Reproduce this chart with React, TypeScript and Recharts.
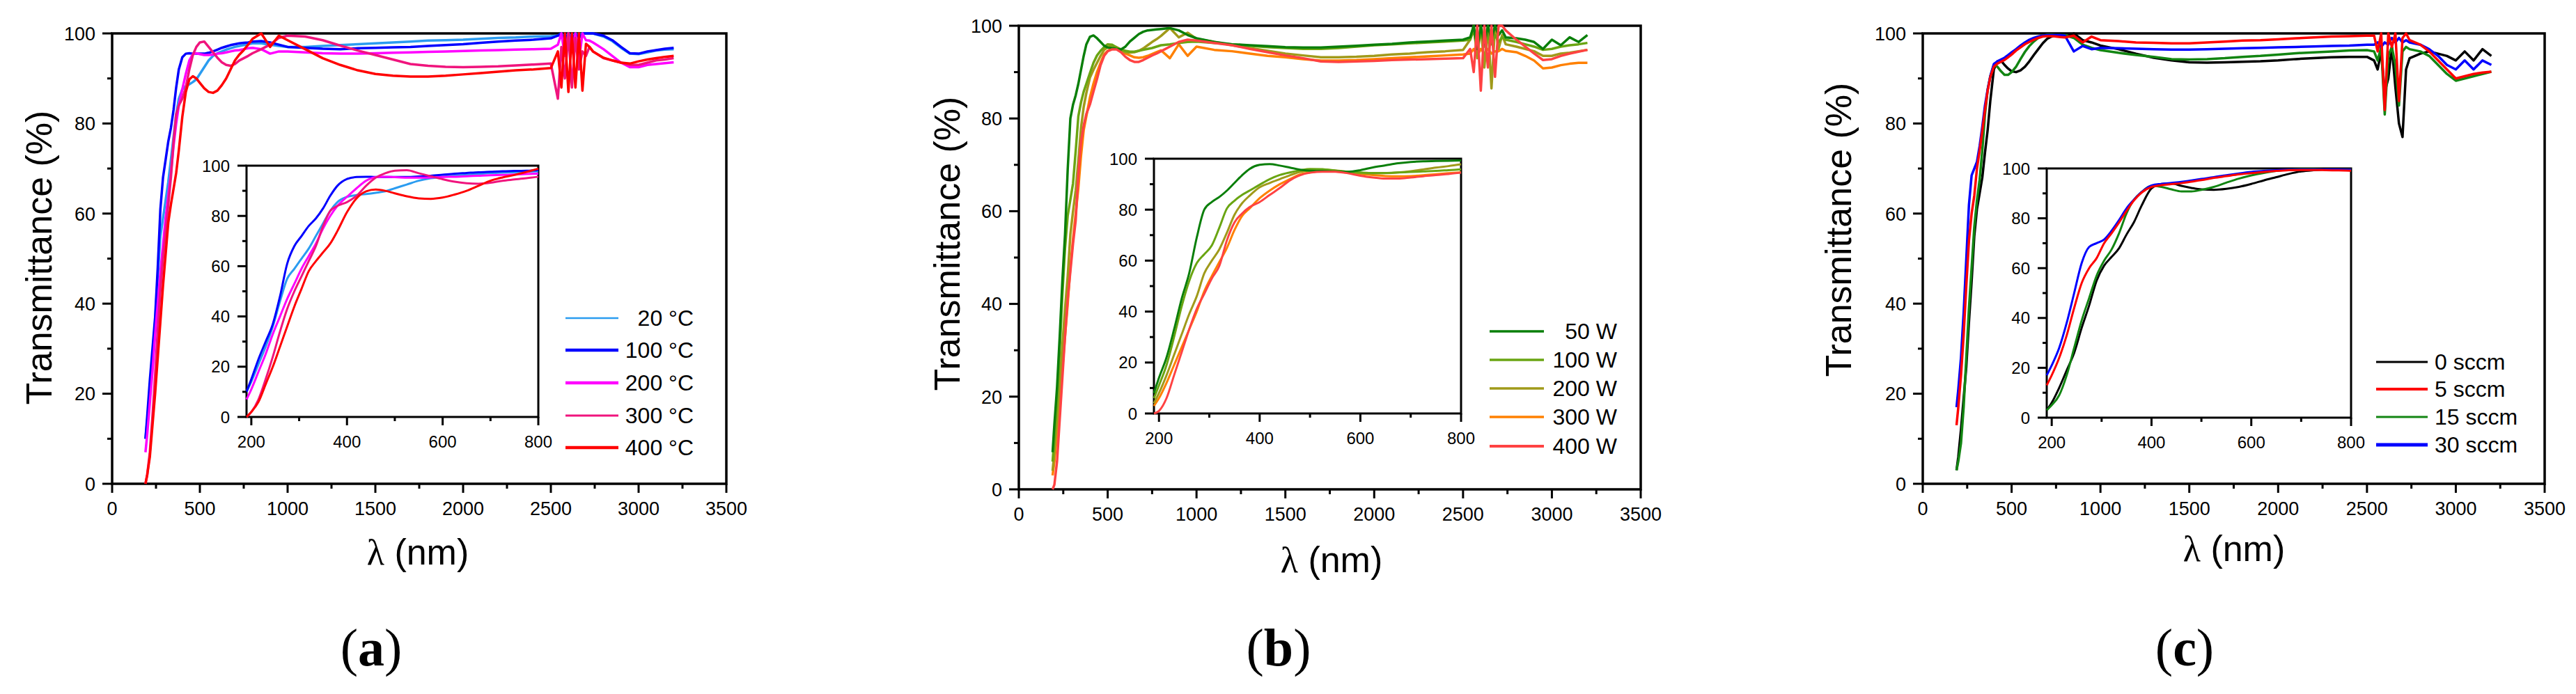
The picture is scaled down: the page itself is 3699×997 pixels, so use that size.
import { LineChart, Line, XAxis, YAxis, ReferenceArea } from 'recharts'

// wavelength grid (nm) shared by every curve
const WL = [
  190, 200, 215, 230, 245, 260, 275, 290, 305, 320, 335, 350, 365, 380,
  400, 420, 440, 460, 480, 500,
  525, 550, 575, 600, 625, 650, 675, 700, 725, 750, 775, 800,
  850, 900, 950, 1000,
  1100, 1200, 1300, 1400, 1500, 1600, 1700, 1800, 1900, 2000, 2100, 2200, 2300, 2400, 2500,
  2540, 2560, 2580, 2600, 2620, 2640, 2660, 2680, 2700, 2720, 2740,
  2800, 2850, 2900, 2950, 3000, 3050, 3100, 3150, 3200,
]

// (a) substrate temperature
const T20 = [
  10, 14, 21, 28, 36, 46, 55, 59, 63, 67, 72, 77, 82, 85.5,
  87.6, 88.3, 88.7, 89.2, 89.8, 91,
  92.5, 94, 95, 95.6, 96, 96.4, 96.7, 97, 97.2, 97.4, 97.6, 97.8,
  97.8, 97.5, 97.2, 97,
  97, 97.2, 97.4, 97.6, 97.8, 98, 98.2, 98.4, 98.5, 98.6, 98.8, 99, 99.1, 99.3, 99.4,
  99.5, 100, 99, 100, 99.2, 100, 99.5, 100, 100, 100, 100,
  99.3, 98.3, 96.8, 95.5, 95.4, 95.8, 96.2, 96.4, 96.5,
]
const T100 = [
  10, 15, 23, 30, 37, 48, 61, 68, 72, 76, 79, 83, 88, 92,
  94.7, 95.5, 95.6, 95.5, 95.5, 95.5,
  95.5, 95.7, 96, 96.4, 96.8, 97.1, 97.4, 97.6, 97.8, 97.9, 98, 98.2,
  98.3, 98, 97.5, 97,
  96.8, 96.6, 96.5, 96.7, 96.8, 96.9, 97, 97.2, 97.4, 97.6, 97.9, 98.2, 98.4, 98.6, 98.9,
  99.5, 100, 98.5, 100, 98, 100, 99, 100, 100, 100, 100,
  99.5, 98.5, 97, 95.6, 95.5, 96, 96.3, 96.6, 96.8,
]
const T200 = [
  7, 11, 18, 25, 33, 40, 47, 53, 59, 64, 69, 75, 80, 84,
  87.6, 91, 94, 95.4, 95.6, 95.4,
  95.2, 95.2, 95.3, 95.5, 95.6, 95.8, 96, 96.2, 96.3, 96.5, 96.7, 96.8,
  96.5, 95.5, 96, 96,
  95.8, 95.6, 95.5, 95.5, 95.6, 95.7, 95.8, 95.9, 96, 96.1, 96.2, 96.3, 96.4, 96.5, 96.6,
  97.5, 100, 95, 100, 96, 100, 94, 100, 98.5, 98.4, 98,
  96.5, 95, 93.5, 92.5, 92.5, 93, 93.2, 93.4, 93.6,
]
const T300 = [
  0, 2, 7, 15, 24, 34, 43, 50, 56, 62, 68, 76, 82, 84,
  85.5, 88, 92, 95.2, 97, 98,
  98.2, 97, 95.8, 94.6, 93.6, 93, 92.8, 93.2, 94, 94.5, 95, 95.6,
  96.5, 97.5, 99, 99.5,
  99.3, 98.5, 97.3, 96.2, 95.2, 94.2, 93.2, 92.8, 92.6, 92.5, 92.6, 92.7, 92.9, 93.1, 93.3,
  85.5, 97, 90, 100, 88, 99, 92, 96, 95, 97, 96,
  94.5, 94, 93.5, 93, 93, 93.5, 94, 94.2, 94.5,
]
const T400 = [
  0, 2, 6, 13, 20, 28, 36, 44, 51, 58, 62, 65.5, 69, 74,
  81.5, 87, 89.8, 90.5, 90, 89,
  87.8, 87, 86.8, 87.3, 88.5, 90, 92, 94, 95.3, 96.3, 97.5, 98.8,
  100, 97, 99.5, 98.5,
  96.5, 94.5, 93, 91.8, 91, 90.6, 90.4, 90.4, 90.6, 90.9, 91.2, 91.5, 91.8, 92, 92.3,
  96, 88, 100, 87, 100, 88, 100, 87.3, 97.7, 97, 96,
  94.6, 94, 93.5, 93.3, 93.8, 94.2, 94.5, 94.8, 95,
]

// (b) sputtering power
const P50 = [
  8, 14, 22, 33, 45, 55, 69, 80, 83, 85, 87.5, 90.5, 93.5, 96,
  97.6, 97.9, 97.3, 96.5, 95.7, 95.3,
  95.2, 95, 94.9, 95.5, 96.6, 97.4, 98.2, 98.7, 99, 99.1, 99.2, 99.3,
  99.5, 99, 98, 97.3,
  96.5, 96, 95.8, 95.6, 95.4, 95.3, 95.3, 95.5, 95.7, 95.9, 96.1, 96.4, 96.6, 96.8, 97,
  97.5, 100, 95, 100, 96, 100, 97, 100, 98, 99, 97.5,
  97.3, 97, 96.5, 95, 97, 95.8, 97.5, 96.5, 98,
]
const P100 = [
  6, 11, 19, 30, 42, 52, 59, 62.5, 66, 73, 80.5, 83.5, 85.8, 87.5,
  89.8, 92, 93.6, 94.6, 95.4, 96,
  95.9, 95.3, 94.9, 94.6, 94.4, 94.4, 94.6, 94.8, 95, 95.2, 95.5, 95.8,
  96, 96.3, 96.5, 96.6,
  96.3, 96, 95.7, 95.4, 95.2, 95, 95, 95.2, 95.5, 95.8, 96, 96.2, 96.4, 96.6, 96.8,
  97, 99, 95, 99, 95.5, 98, 96, 98, 96.5, 97.5, 97,
  96.5, 96, 95.5, 94.8, 95, 95.5, 95.8, 96, 96.3,
]
const P200 = [
  4, 8, 15, 23, 31, 39, 46, 55, 60, 64.5, 71, 78, 82.5, 85.5,
  88.8, 90.5, 92, 93.5, 94.8, 95.4,
  95.7, 95.4, 94.8, 94.3, 94.2, 94.3, 94.6, 95.1, 95.8, 96.5, 97.1, 97.8,
  99.5, 97.5, 98.5, 97.2,
  96.5, 95.8, 95.2, 94.6, 94, 93.6, 93.2, 93.2, 93.3, 93.5, 93.8, 94, 94.3, 94.5, 94.8,
  97, 100, 93, 100, 91, 100, 86.5, 100, 95, 98, 96,
  95.5, 95, 94.5, 93.5, 93.5, 94, 94.2, 94.5, 94.8,
]
const P300 = [
  3, 6, 12, 19, 26, 33, 40, 48, 54, 59.5, 65, 72, 77.5, 80.5,
  84.5, 87.5, 90, 92, 93.8, 94.6,
  95.1, 95, 94.5, 94, 93.6, 93.2, 93.1, 93.2, 93.5, 93.9, 94.3, 94.7,
  93, 96, 93.5, 95.5,
  94.8, 94.5, 94, 93.5, 93.2, 92.8, 92.5, 92.5, 92.6, 92.8, 93, 93.2, 93.4, 93.6, 93.8,
  94, 95, 93.5, 95, 94, 95, 94, 94.5, 94.5, 95, 94.6,
  94.3, 93.5, 92.5, 90.8, 91, 91.5, 91.8, 92, 92,
]
const P400 = [
  0, 1, 6, 15, 24, 33, 41, 47, 53, 58, 68, 75, 78.5, 81,
  83, 85.8, 88.5, 91.5, 93.5, 94.5,
  94.9, 94.9, 94.3, 93.3, 92.6, 92.2, 92.2, 92.6, 93.1, 93.6, 94, 94.5,
  95.5, 96.5, 97, 96.8,
  96.3, 95.8, 95, 94.3, 93.6, 93, 92.3, 92.2, 92.3, 92.4, 92.6, 92.7, 92.8, 92.9, 93,
  95, 90, 100, 86, 100, 91, 100, 89, 100, 100, 99,
  97, 95.5, 94, 92.6, 92.8, 93.5, 94, 94.4, 94.8,
]

// (c) oxygen flow
const C0 = [
  3, 6, 12, 19, 26, 36, 45, 55, 61, 64.5, 68, 73.5, 78.5, 85,
  92, 93.8, 94, 93, 92.2, 91.6,
  91.4, 91.8, 92.6, 93.8, 95.2, 96.5, 97.8, 98.8, 99.3, 99.6, 99.5, 99.2,
  100, 98.5, 98, 97.3,
  96.5, 95.5, 94.6, 94, 93.6, 93.5, 93.6, 93.7, 93.8, 94, 94.3, 94.5, 94.7, 94.8, 94.8,
  94, 92, 96, 87, 90, 97, 88, 80, 77, 92, 94.5,
  95.5, 96, 95.5, 95, 94, 96, 94, 96.5, 95,
]
const C5 = [
  13, 17, 24, 33, 44, 54, 60, 64, 70, 74, 78.3, 83, 87.2, 90.3,
  92.6, 93.3, 93.7, 94.1, 94.7, 95.3,
  96.2, 96.9, 97.6, 98.1, 98.6, 99, 99.3, 99.4, 99.4, 99.3, 99.2, 99.1,
  99.5, 98, 99.3, 98.5,
  98.3, 98, 97.9, 97.8, 97.8, 98, 98.2, 98.4, 98.5, 98.7, 98.9, 99.1, 99.3, 99.4, 99.5,
  99.5, 96, 100, 83, 100, 97, 100, 85, 99, 100, 98.5,
  97.5, 96, 94, 92, 90, 90.5, 91, 91.3, 91.5,
]
const C15 = [
  3, 5, 9, 17, 28, 39, 48, 57, 63, 67.5, 74, 82, 87.5, 90.5,
  93, 92.6, 91.6, 90.8, 90.8, 91.4,
  92.6, 94.3, 95.9, 97.2, 98.2, 99, 99.5, 99.7, 99.7, 99.6, 99.6, 99.6,
  99, 97.5, 96.8, 96.3,
  95.7, 95.2, 94.8, 94.3, 94.2, 94.3, 94.5, 94.8, 95, 95.3, 95.6, 95.8, 96, 96.2, 96.3,
  96, 94, 97, 82, 95, 97, 93, 84, 96, 97, 96.5,
  96, 95, 93, 91, 89.5, 90, 90.5, 91, 91.5,
]
const C30 = [
  17, 21, 28, 38, 50, 62, 68.5, 70, 71.5, 75, 79.3, 84, 87.5, 90.5,
  93.2, 93.8, 94.2, 94.6, 95.2, 95.8,
  96.5, 97.3, 98, 98.6, 99, 99.3, 99.5, 99.6, 99.6, 99.6, 99.6, 99.5,
  96, 97.2, 96.5, 96.8,
  96.7, 96.6, 96.5, 96.4, 96.4, 96.5, 96.6, 96.7, 96.8, 96.9, 97, 97.1, 97.2, 97.3, 97.5,
  97.5, 98, 97, 98, 97.5, 99, 98, 99, 98, 98.5, 98,
  97.5, 96.5, 95, 93, 92, 94, 92, 94, 93,
]

const MAIN_X_TICKS = [0, 250, 500, 750, 1000, 1250, 1500, 1750, 2000, 2250, 2500, 2750, 3000, 3250, 3500]
const INSET_X_TICKS = [200, 300, 400, 500, 600, 700, 800]
const Y_TICKS = [0, 10, 20, 30, 40, 50, 60, 70, 80, 90, 100]

const SANS = '"Liberation Sans", Arial, sans-serif'
const SERIF = '"Liberation Serif", "Times New Roman", serif'

type Curve = { key: string; label: string; color: string; values: number[]; legendWidth: number }
type Box = { x: number; y: number; w: number; h: number }
type Panel = {
  tag: string
  curves: Curve[]
  drawOrder: string[]
  plot: Box
  inset: Box
  yTitle: [number, number]
  xTitle: [number, number]
  tagPos: [number, number]
  legend: { x1: number; x2: number; textX: number; anchor: 'start' | 'end'; rows: number[] }
}

const panels: Panel[] = [
  {
    tag: 'a',
    curves: [
      { key: 't20', label: '20 °C', color: '#2b9cf0', values: T20, legendWidth: 2.5 },
      { key: 't100', label: '100 °C', color: '#0000ff', values: T100, legendWidth: 4.5 },
      { key: 't200', label: '200 °C', color: '#ff00ff', values: T200, legendWidth: 4.5 },
      { key: 't300', label: '300 °C', color: '#f0147d', values: T300, legendWidth: 3 },
      { key: 't400', label: '400 °C', color: '#ff0000', values: T400, legendWidth: 4.5 },
    ],
    drawOrder: ['t20', 't100', 't200', 't300', 't400'],
    plot: { x: 161, y: 48, w: 882, h: 647 },
    inset: { x: 354, y: 238, w: 419, h: 361 },
    yTitle: [56, 370],
    xTitle: [600, 793],
    tagPos: [533, 930],
    legend: { x1: 812, x2: 888, textX: 996, anchor: 'end', rows: [457, 503, 550, 597, 643] },
  },
  {
    tag: 'b',
    curves: [
      { key: 'p50', label: '50 W', color: '#0a7f0a', values: P50, legendWidth: 3.5 },
      { key: 'p100', label: '100 W', color: '#6aa512', values: P100, legendWidth: 3.5 },
      { key: 'p200', label: '200 W', color: '#a09a1a', values: P200, legendWidth: 3.5 },
      { key: 'p300', label: '300 W', color: '#ff8000', values: P300, legendWidth: 3.5 },
      { key: 'p400', label: '400 W', color: '#ff4242', values: P400, legendWidth: 4 },
    ],
    drawOrder: ['p300', 'p200', 'p100', 'p50', 'p400'],
    plot: { x: 1463, y: 37, w: 893, h: 666 },
    inset: { x: 1657, y: 228, w: 441, h: 366 },
    yTitle: [1360, 350],
    xTitle: [1912, 804],
    tagPos: [1836, 930],
    legend: { x1: 2139, x2: 2217, textX: 2322, anchor: 'end', rows: [476, 517, 558, 599, 641] },
  },
  {
    tag: 'c',
    curves: [
      { key: 'c0', label: '0 sccm', color: '#000000', values: C0, legendWidth: 3 },
      { key: 'c5', label: '5 sccm', color: '#ff0000', values: C5, legendWidth: 4 },
      { key: 'c15', label: '15 sccm', color: '#128512', values: C15, legendWidth: 3 },
      { key: 'c30', label: '30 sccm', color: '#0000ff', values: C30, legendWidth: 5 },
    ],
    drawOrder: ['c0', 'c15', 'c30', 'c5'],
    plot: { x: 2761, y: 48, w: 893, h: 647 },
    inset: { x: 2939, y: 242, w: 437, h: 358 },
    yTitle: [2640, 330],
    xTitle: [3208, 788],
    tagPos: [3137, 930],
    legend: { x1: 3412, x2: 3486, textX: 3496, anchor: 'start', rows: [520, 559, 599, 639] },
  },
]

function buildRows(curves: Curve[]) {
  return WL.map((x, i) => {
    const row: Record<string, number> = { x }
    curves.forEach((c) => {
      row[c.key] = c.values[i]
    })
    return row
  })
}

function ordered(panel: Panel) {
  return panel.drawOrder.map((k) => panel.curves.find((c) => c.key === k) as Curve)
}

// tick renderers: outward major/minor marks, labels on majors only
function xTick(step: number, major: number, minor: number, fontSize: number, dy: number) {
  return (props: any) => {
    const { x, y, payload } = props
    const isMajor = payload.value % step === 0
    return (
      <g>
        <line x1={x} x2={x} y1={y} y2={y + (isMajor ? major : minor)} stroke="#000" strokeWidth={3} />
        {isMajor && (
          <text x={x} y={y + dy} textAnchor="middle" fontSize={fontSize} fontFamily={SANS} fill="#000">
            {payload.value}
          </text>
        )}
      </g>
    )
  }
}

function yTick(step: number, major: number, minor: number, fontSize: number, gap: number) {
  return (props: any) => {
    const { x, y, payload } = props
    const isMajor = payload.value % step === 0
    return (
      <g>
        <line x1={x} x2={x - (isMajor ? major : minor)} y1={y} y2={y} stroke="#000" strokeWidth={3} />
        {isMajor && (
          <text
            x={x - major - gap}
            y={y + fontSize * 0.36}
            textAnchor="end"
            fontSize={fontSize}
            fontFamily={SANS}
            fill="#000"
          >
            {payload.value}
          </text>
        )}
      </g>
    )
  }
}

const mainXTick = xTick(500, 13, 7, 27, 45)
const mainYTick = yTick(20, 14, 7, 27, 10)
const insetXTick = xTick(200, 12, 6, 24, 44)
const insetYTick = yTick(20, 13, 6, 24, 11)

function MainChart({ panel, rows }: { panel: Panel; rows: Record<string, number>[] }) {
  const { plot } = panel
  const YW = 140
  const XH = 80
  const MT = 30
  const MR = 60
  return (
    <div style={{ position: 'absolute', left: plot.x - YW, top: plot.y - MT }}>
      <LineChart
        width={plot.w + YW + MR}
        height={plot.h + MT + XH}
        data={rows}
        margin={{ top: MT, right: MR, left: 0, bottom: 0 }}
      >
        <XAxis
          dataKey="x"
          type="number"
          domain={[0, 3500]}
          ticks={MAIN_X_TICKS}
          interval={0}
          height={XH}
          tickSize={0}
          tickMargin={0}
          tickLine={false}
          axisLine={false}
          tick={mainXTick}
        />
        <YAxis
          type="number"
          domain={[0, 100]}
          ticks={Y_TICKS}
          interval={0}
          width={YW}
          tickSize={0}
          tickMargin={0}
          tickLine={false}
          axisLine={false}
          tick={mainYTick}
        />
        {ordered(panel).map((c) => (
          <Line
            key={c.key}
            dataKey={c.key}
            type="linear"
            stroke={c.color}
            strokeWidth={3.5}
            strokeLinejoin="round"
            dot={false}
            activeDot={false}
            isAnimationActive={false}
          />
        ))}
        <ReferenceArea x1={0} x2={3500} y1={0} y2={100} fill="none" stroke="#000" strokeWidth={3.5} />
      </LineChart>
    </div>
  )
}

function InsetChart({ panel, rows }: { panel: Panel; rows: Record<string, number>[] }) {
  const { inset } = panel
  const YW = 110
  const XH = 60
  const MT = 25
  const MR = 40
  const insetRows = rows.filter((r) => r.x <= 800)
  return (
    <div style={{ position: 'absolute', left: inset.x - YW, top: inset.y - MT }}>
      <LineChart
        width={inset.w + YW + MR}
        height={inset.h + MT + XH}
        data={insetRows}
        margin={{ top: MT, right: MR, left: 0, bottom: 0 }}
      >
        <XAxis
          dataKey="x"
          type="number"
          domain={[190, 800]}
          ticks={INSET_X_TICKS}
          interval={0}
          height={XH}
          tickSize={0}
          tickMargin={0}
          tickLine={false}
          axisLine={false}
          tick={insetXTick}
        />
        <YAxis
          type="number"
          domain={[0, 100]}
          ticks={Y_TICKS}
          interval={0}
          width={YW}
          tickSize={0}
          tickMargin={0}
          tickLine={false}
          axisLine={false}
          tick={insetYTick}
        />
        {ordered(panel).map((c) => (
          <Line
            key={c.key}
            dataKey={c.key}
            type="monotone"
            stroke={c.color}
            strokeWidth={3}
            dot={false}
            activeDot={false}
            isAnimationActive={false}
          />
        ))}
        <ReferenceArea x1={190} x2={800} y1={0} y2={100} fill="none" stroke="#000" strokeWidth={3} />
      </LineChart>
    </div>
  )
}

function Annotations({ panel }: { panel: Panel }) {
  const { legend } = panel
  return (
    <g fontFamily={SANS} fill="#000">
      <text
        transform={`translate(${panel.yTitle[0]},${panel.yTitle[1]}) rotate(-90)`}
        textAnchor="middle"
        dominantBaseline="central"
        fontSize={52}
      >
        Transmittance (%)
      </text>
      <text x={panel.xTitle[0]} y={panel.xTitle[1]} textAnchor="middle" dominantBaseline="central" fontSize={52}>
        <tspan fontFamily={SERIF}>λ</tspan> (nm)
      </text>
      <text
        x={panel.tagPos[0]}
        y={panel.tagPos[1]}
        textAnchor="middle"
        dominantBaseline="central"
        fontSize={76}
        fontFamily={SERIF}
      >
        (<tspan fontWeight="bold">{panel.tag}</tspan>)
      </text>
      {panel.curves.map((c, i) => (
        <g key={c.key}>
          <line
            x1={legend.x1}
            x2={legend.x2}
            y1={legend.rows[i]}
            y2={legend.rows[i]}
            stroke={c.color}
            strokeWidth={c.legendWidth}
          />
          <text
            x={legend.textX}
            y={legend.rows[i]}
            textAnchor={legend.anchor}
            dominantBaseline="central"
            fontSize={32}
          >
            {c.label}
          </text>
        </g>
      ))}
    </g>
  )
}

export default function App() {
  return (
    <div style={{ position: 'absolute', left: 0, top: 0, width: 3699, height: 997, background: '#fff', overflow: 'hidden' }}>
      {panels.map((p) => {
        const rows = buildRows(p.curves)
        return (
          <div key={p.tag}>
            <MainChart panel={p} rows={rows} />
            <InsetChart panel={p} rows={rows} />
          </div>
        )
      })}
      <svg width={3699} height={997} style={{ position: 'absolute', left: 0, top: 0, pointerEvents: 'none' }}>
        {panels.map((p) => (
          <Annotations key={p.tag} panel={p} />
        ))}
      </svg>
    </div>
  )
}
